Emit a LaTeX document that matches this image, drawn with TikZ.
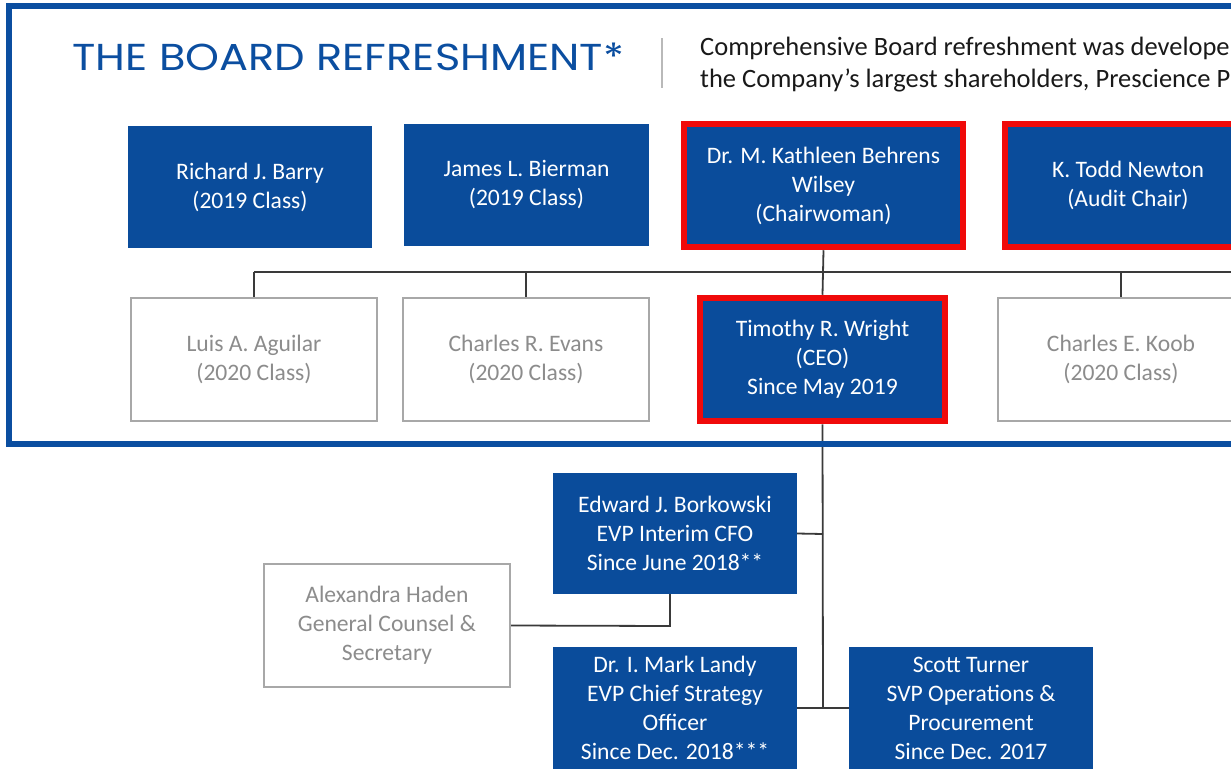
\documentclass[tikz,border=0pt]{standalone}
\usepackage{fontspec}
\usetikzlibrary{backgrounds}
\setmainfont{Carlito}
\newfontfamily\titlefont[FakeStretch=1.15]{Poppins}
\definecolor{boxblue}{HTML}{0A4C9B}
\definecolor{frameblue}{HTML}{0B4EA0}
\definecolor{redline}{HTML}{F00A0A}
\definecolor{greytext}{HTML}{8C8C8C}
\definecolor{greyline}{HTML}{A8A8A8}
\definecolor{connline}{HTML}{3A3A3A}
\tikzset{
  base/.style={rectangle, inner sep=0pt, align=center, font=\fontsize{23.6}{29}\selectfont},
  bluebox/.style={base, fill=boxblue, text=white, minimum width=#1, minimum height=122pt},
  bluebox/.default=244pt,
  redbox/.style={base, fill=boxblue, text=white, draw=redline, line width=6.5pt, minimum width=#1, minimum height=123pt},
  greybox/.style={base, fill=white, text=greytext, draw=greyline, line width=1.5pt, minimum width=246pt, minimum height=123pt},
  conn/.style={draw=connline, line width=1.8pt},
}
\begin{document}
\begin{tikzpicture}[x=1pt,y=-1pt]
\useasboundingbox (0,0) rectangle (1231,771);
\clip (0,0) rectangle (1231,771);
% frame
\draw[frameblue, line width=5.5pt] (1240,6) -- (9,6) -- (9,444) -- (1240,444);
% title
\node[anchor=west, inner sep=0pt, text=frameblue, font=\titlefont\fontsize{37.5}{42}\selectfont] (title) at (72,57) {THE BOARD REFRESHMENT*};
\draw[greyline!80, line width=1.3pt] (662,38) -- (662,88);
\node[anchor=north west, inner sep=0pt, align=left, text=black!90, font=\fontsize{26.5}{32}\selectfont] (desc) at (700,37)
  {Comprehensive Board refreshment was develope\\the Company’s largest shareholders, Prescience P};
\coordinate (busL) at (254,272);
\coordinate (busR) at (1240,272);
\coordinate (trunkB) at (823,708);
\coordinate (trunkM) at (823,534);
\coordinate (hadenK) at (670,626);
% boxes row 1
\node[bluebox] (barry) at (250,187) {Richard J. Barry\\(2019 Class)};
\node[bluebox=245pt] (bierman) at (526.5,185) {James L. Bierman\\(2019 Class)};
\node[redbox=279pt] (wilsey) at (823.5,185.5) {Dr. M. Kathleen Behrens\\Wilsey\\(Chairwoman)};
\node[redbox=246pt] (newton) at (1128,185.5) {K. Todd Newton\\(Audit Chair)};
% row 2
\node[greybox] (aguilar) at (254,359.5) {Luis A. Aguilar\\(2020 Class)};
\node[greybox] (evans) at (526,359.5) {Charles R. Evans\\(2020 Class)};
\node[redbox=245pt] (wright) at (822.5,359.5) {Timothy R. Wright\\(CEO)\\Since May 2019};
\node[greybox] (koob) at (1121,359.5) {Charles E. Koob\\(2020 Class)};
% row 3
\node[bluebox=244pt, minimum height=121pt] (borkowski) at (675,533.5) {Edward J. Borkowski\\EVP Interim CFO\\Since June 2018**};
\node[greybox] (haden) at (387,625.5) {Alexandra Haden\\General Counsel \&\\Secretary};
\node[bluebox] (landy) at (675,708) {Dr. I. Mark Landy\\EVP Chief Strategy\\Officer\\Since Dec. 2018***};
\node[bluebox] (turner) at (971,708) {Scott Turner\\SVP Operations \&\\Procurement\\Since Dec. 2017};
% connectors
\begin{scope}[on background layer]
\draw[conn] (wilsey.south) -- (wright.north);
\draw[conn] (busL) -- (busR);
\draw[conn] (busL) -- (aguilar.north);
\draw[conn] (evans.north |- busL) -- (evans.north);
\draw[conn] (koob.north |- busL) -- (koob.north);
\draw[conn] (wright.south) -- (trunkB);
\draw[conn] (borkowski.east) -- (trunkM);
\draw[conn] (landy.east) -- (trunkB);
\draw[conn] (turner.west) -- (trunkB);
\draw[conn] (haden.east) -- (hadenK) -- (hadenK |- borkowski.south);
\end{scope}
\end{tikzpicture}
\end{document}
